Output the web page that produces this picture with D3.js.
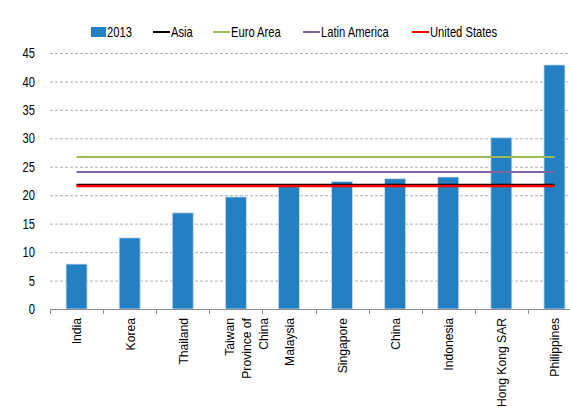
<!DOCTYPE html>
<html><head><meta charset="utf-8">
<script src="https://cdn.jsdelivr.net/npm/d3@7"></script>
<style>
html,body{margin:0;padding:0;background:#fff;}
svg{display:block;font-family:Arial,"Liberation Sans",sans-serif;}
</style></head>
<body>
<svg id="c" width="570" height="414"></svg>
<script>
const categories = ["India","Korea","Thailand","Taiwan Province of China","Malaysia","Singapore","China","Indonesia","Hong Kong SAR","Philippines"];
const labelLines = [["India"],["Korea"],["Thailand"],["Taiwan","Province of","China"],["Malaysia"],["Singapore"],["China"],["Indonesia"],["Hong Kong SAR"],["Philippines"]];
const values2013 = [7.9, 12.5, 16.9, 19.7, 21.6, 22.4, 22.9, 23.2, 30.1, 42.9];
const refSeries = ["Asia","Euro Area","Latin America","United States"];
const refValues = [21.8, 26.7, 24.1, 21.6];
const refColors = ["#000000","#9bbb59","#8064a2","#ff0000"];
const yTicks = [0,5,10,15,20,25,30,35,40,45];

const svg = d3.select("#c");
const x = d3.scaleBand().domain(categories).range([50, 581]).padding(0);
const y = d3.scaleLinear().domain([0,45]).range([309, 53]);
const barW = 21;

// gridlines
svg.append("g").selectAll("line").data(yTicks.filter(d=>d>0)).join("line")
  .attr("x1",50).attr("x2",570)
  .attr("y1",d=>y(d)+0.5).attr("y2",d=>y(d)+0.5)
  .attr("stroke","#b0b0b0").attr("stroke-width",1).attr("stroke-dasharray","3,2");

// y labels
svg.append("g").selectAll("text").data(yTicks).join("text")
  .attr("transform",d=>`translate(35,${y(d)}) scale(0.8,1)`)
  .attr("dy","0.36em")
  .attr("text-anchor","end").attr("font-size","14px").attr("fill","#000")
  .text(d=>d);

// bars
svg.append("g").selectAll("rect").data(categories).join("rect")
  .attr("x",(d)=>x(d)+x.bandwidth()/2-barW/2)
  .attr("width",barW)
  .attr("y",(d,i)=>y(values2013[i]))
  .attr("height",(d,i)=>y(0)-y(values2013[i]))
  .attr("fill","#2280c3")
  .attr("stroke","#cfe0f0").attr("stroke-width",0.8);

// x axis line & ticks
svg.append("line").attr("x1",50).attr("x2",581).attr("y1",309.5).attr("y2",309.5).attr("stroke","#8c8c8c");
const bounds = categories.map(c=>x(c)).concat([x(categories[categories.length-1])+x.bandwidth()]);
svg.append("g").selectAll("line").data(bounds).join("line")
  .attr("x1",d=>Math.round(d)+0.5).attr("x2",d=>Math.round(d)+0.5)
  .attr("y1",309).attr("y2",314).attr("stroke","#8c8c8c");

// reference lines
const xStart = x(categories[0])+x.bandwidth()/2;
const xEnd = x(categories[categories.length-1])+x.bandwidth()/2;
const order = [1,2,0,3];
const widths = [2.5,2,2,2.5];
svg.append("g").selectAll("line").data(order).join("line")
  .attr("x1",xStart).attr("x2",xEnd)
  .attr("y1",i=>y(refValues[i])).attr("y2",i=>y(refValues[i]))
  .attr("stroke",i=>refColors[i]).attr("stroke-width",i=>widths[i]);

// x labels
const multiOffsets = [-7,10,27.7];
labelLines.forEach((lines,i)=>{
  const cx = x(categories[i])+x.bandwidth()/2;
  const offs = lines.length===1 ? [0] : multiOffsets;
  lines.forEach((t,j)=>{
    svg.append("text")
      .attr("transform",`translate(${cx+offs[j]},318) rotate(-90) scale(0.9,1)`)
      .attr("text-anchor","end").attr("dy","0.36em")
      .attr("font-size","13.5px").attr("fill","#000")
      .text(t);
  });
});

// legend
const lg = svg.append("g").attr("font-size","14px");
lg.append("rect").attr("x",91).attr("y",27).attr("width",15).attr("height",10).attr("fill","#2280c3");
lg.append("text").attr("transform","translate(107,32) scale(0.8,1)").attr("dy","0.36em").text("2013");
const legX = [153,213,303,412];
refSeries.forEach((s,i)=>{
  lg.append("line").attr("x1",legX[i]).attr("x2",legX[i]+17).attr("y1",32).attr("y2",32)
    .attr("stroke",refColors[i]).attr("stroke-width",2);
  lg.append("text").attr("transform",`translate(${legX[i]+18},32) scale(0.8,1)`).attr("dy","0.36em").text(s);
});
</script>
</body></html>
